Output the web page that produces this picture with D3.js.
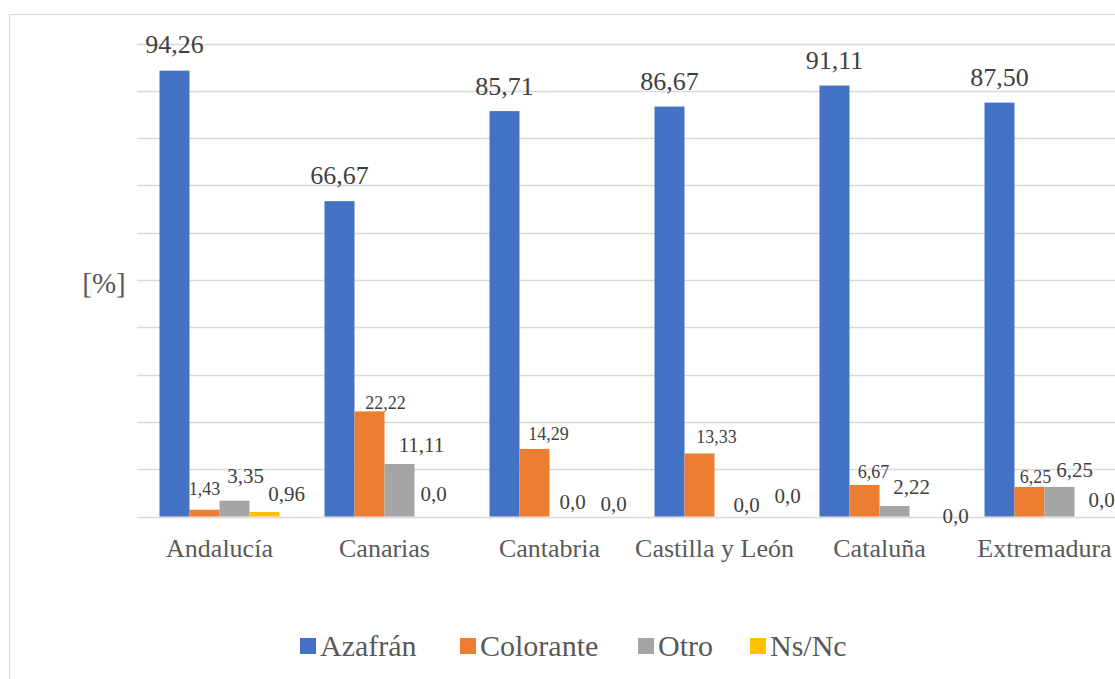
<!DOCTYPE html>
<html><head><meta charset="utf-8">
<script src="https://cdn.jsdelivr.net/npm/d3@7"></script>
<style>html,body{margin:0;padding:0;background:#fff;}svg{display:block;}</style>
</head><body>
<svg id="chart" width="1115" height="679"></svg>
<script>
const categories = ["Andalucía","Canarias","Cantabria","Castilla y León","Cataluña","Extremadura"];
const seriesNames = ["Azafrán","Colorante","Otro","Ns/Nc"];
const azafran   = [94.26, 66.67, 85.71, 86.67, 91.11, 87.50];
const colorante = [1.43, 22.22, 14.29, 13.33, 6.67, 6.25];
const otro      = [3.35, 11.11, 0.0, 0.0, 2.22, 6.25];
const nsnc      = [0.96, 0.0, 0.0, 0.0, 0.0, 0.0];
const labelText = [
  ["94,26","66,67","85,71","86,67","91,11","87,50"],
  ["1,43","22,22","14,29","13,33","6,67","6,25"],
  ["3,35","11,11","0,0","0,0","2,22","6,25"],
  ["0,96","0,0","0,0","0,0","0,0","0,0"]
];
const yTicks = [0,10,20,30,40,50,60,70,80,90,100];

// layout / style (not data)
const colors = ["#4472C4","#ED7D31","#A5A5A5","#FFC000"];
const labelSize = [26, 18, 21, 21];
const labelDx = [[0,0,0,0,0,0],[0,16,14,17,9,6],[11,22,8,17,17,15],[22,4,19,28,31,12]];
const labelGap = [[18,17,16,17,17,17],[15,2,9,10,7,4],[18,12,8,5,12,10],[11,16,6,14,-6,10]];

const values = [azafran, colorante, otro, nsnc];
const svg = d3.select("#chart");
const font = "'Liberation Serif','Times New Roman',serif";

// outer border
svg.append("rect").attr("x",9.5).attr("y",14.5).attr("width",1130).attr("height",700)
  .attr("fill","none").attr("stroke","#D9D9D9").attr("stroke-width",1);

const x = d3.scaleBand().domain(categories).range([137,1127]).paddingInner(0).paddingOuter(0);
const xs = d3.scaleBand().domain(seriesNames).range([22.5,142.5]).padding(0);
const y = d3.scaleLinear().domain([0,100]).range([516.5,43.5]);

// gridlines
svg.append("g").selectAll("line").data(yTicks).join("line")
  .attr("x1",137).attr("x2",1127)
  .attr("y1",d=>Math.round(y(d))+0.5).attr("y2",d=>Math.round(y(d))+0.5)
  .attr("stroke","#D9D9D9").attr("stroke-width",1.5);

// bars
const groups = svg.append("g").selectAll("g").data(categories).join("g")
  .attr("transform",d=>`translate(${x(d)},0)`);
groups.each(function(cat,ci){
  const g = d3.select(this);
  seriesNames.forEach((s,si)=>{
    const v = values[si][ci];
    g.append("rect").attr("x",xs(s)).attr("width",xs.bandwidth())
      .attr("y",y(v)).attr("height",y(0)-y(v)).attr("fill",colors[si]);
  });
  seriesNames.forEach((s,si)=>{
    const v = values[si][ci];
    g.append("text").attr("x",xs(s)+xs.bandwidth()/2+labelDx[si][ci])
      .attr("y",y(v)-labelGap[si][ci]).attr("text-anchor","middle")
      .attr("font-family",font).attr("font-size",labelSize[si]).attr("fill","#404040")
      .text(labelText[si][ci]);
  });
});

// category labels
svg.append("g").selectAll("text").data(categories).join("text")
  .attr("x",d=>x(d)+x.bandwidth()/2).attr("y",557).attr("text-anchor","middle")
  .attr("font-family",font).attr("font-size",26).attr("fill","#595959").text(d=>d);

// y axis title
svg.append("text").attr("x",104).attr("y",293).attr("text-anchor","middle")
  .attr("font-family",font).attr("font-size",29).attr("fill","#595959").text("[%]");

// legend
const legendX = [300,460,638,750];
const lg = svg.append("g").selectAll("g").data(seriesNames).join("g")
  .attr("transform",(d,i)=>`translate(${legendX[i]},0)`);
lg.append("rect").attr("x",0).attr("y",638).attr("width",16).attr("height",16).attr("fill",(d,i)=>colors[i]);
lg.append("text").attr("x",20).attr("y",656).attr("font-family",font).attr("font-size",30)
  .attr("fill","#595959").text(d=>d);
</script>
</body></html>
